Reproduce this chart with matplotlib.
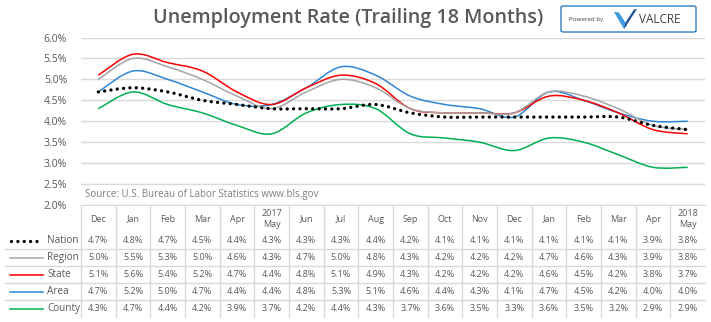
import numpy as np
import matplotlib.pyplot as plt
from matplotlib.path import Path
from matplotlib.patches import PathPatch, FancyBboxPatch, Polygon
from matplotlib.lines import Line2D
from matplotlib.transforms import blended_transform_factory

plt.rcParams['font.family'] = ['Open Sans', 'DejaVu Sans']

# monthly unemployment rates (%), Dec 2016 .. May 2018
months = ['Dec', 'Jan', 'Feb', 'Mar', 'Apr', '2017\nMay', 'Jun', 'Jul', 'Aug',
          'Sep', 'Oct', 'Nov', 'Dec', 'Jan', 'Feb', 'Mar', 'Apr', '2018\nMay']
nation = [4.7, 4.8, 4.7, 4.5, 4.4, 4.3, 4.3, 4.3, 4.4, 4.2, 4.1, 4.1, 4.1, 4.1, 4.1, 4.1, 3.9, 3.8]
region = [5.0, 5.5, 5.3, 5.0, 4.6, 4.3, 4.7, 5.0, 4.8, 4.3, 4.2, 4.2, 4.2, 4.7, 4.6, 4.3, 3.9, 3.8]
state = [5.1, 5.6, 5.4, 5.2, 4.7, 4.4, 4.8, 5.1, 4.9, 4.3, 4.2, 4.2, 4.2, 4.6, 4.5, 4.2, 3.8, 3.7]
area = [4.7, 5.2, 5.0, 4.7, 4.4, 4.4, 4.8, 5.3, 5.1, 4.6, 4.4, 4.3, 4.1, 4.7, 4.5, 4.2, 4.0, 4.0]
county = [4.3, 4.7, 4.4, 4.2, 3.9, 3.7, 4.2, 4.4, 4.3, 3.7, 3.6, 3.5, 3.3, 3.6, 3.5, 3.2, 2.9, 2.9]

series = [
    ('Nation', nation, 'black'),
    ('Region', region, '#A5A5A5'),
    ('State', state, '#FF0000'),
    ('Area', area, '#2E86D4'),
    ('County', county, '#00B050'),
]

W, H = 711, 322
GRID = '#D9D9D9'
TXT = '#595959'


def fx(px):
    return px / W


def fy(py):
    return 1 - py / H


def smooth_path(xs, ys):
    # cubic bezier through every point (Excel-style smoothed line)
    pts = np.column_stack([xs, ys]).astype(float)
    n = len(pts)
    verts = [pts[0]]
    codes = [Path.MOVETO]
    for i in range(n - 1):
        p0 = pts[max(i - 1, 0)]
        p1, p2 = pts[i], pts[i + 1]
        p3 = pts[min(i + 2, n - 1)]
        verts += [p1 + (p2 - p0) / 6, p2 - (p3 - p1) / 6, p2]
        codes += [Path.CURVE4] * 3
    return Path(verts, codes)


fig = plt.figure(figsize=(W / 100, H / 100), dpi=100)
ax = fig.add_axes([fx(81), fy(205), (705 - 81) / W, (205 - 37.5) / H])
ax.set_xlim(-0.5, len(months) - 0.5)
ax.set_ylim(2.0, 6.0)
ax.set_yticks(np.arange(2.0, 6.01, 0.5))
ax.set_yticklabels(['%.1f%%' % v for v in np.arange(2.0, 6.01, 0.5)], fontsize=7.5, color=TXT)
ax.set_xticks([])
ax.tick_params(axis='y', length=0, pad=10)
ax.yaxis.grid(True, color=GRID, lw=1)
ax.set_axisbelow(True)
for s in ['top', 'right', 'left']:
    ax.spines[s].set_visible(False)
ax.spines['bottom'].set_color(GRID)

x = np.arange(len(months))
for name, vals, col in series[::-1]:
    if name == 'Nation':
        p = PathPatch(smooth_path(x, vals), fill=False, edgecolor=col, lw=2.4,
                      linestyle=(0, (0.01, 1.9)), capstyle='round', zorder=5)
    else:
        p = PathPatch(smooth_path(x, vals), fill=False, edgecolor=col, lw=1.1, zorder=3)
    ax.add_patch(p)

ax.text(0.007, 0.06, 'Source: U.S. Bureau of Labor Statistics www.bls.gov',
        transform=ax.transAxes, fontsize=7, color='#7F7F7F', va='center')

# data table under the plot
trans = blended_transform_factory(ax.transData, fig.transFigure)
for i, m in enumerate(months):
    ax.text(i, fy(219), m, transform=trans, ha='center', va='center',
            fontsize=6.5, color=TXT, linespacing=1.2)
row_y = [240.7, 257.7, 274.7, 291.7, 308.7]
for (name, vals, col), ry in zip(series, row_y):
    for i, v in enumerate(vals):
        ax.text(i, fy(ry), '%.1f%%' % v, transform=trans, ha='center', va='center',
                fontsize=6.5, color=TXT)
    fig.text(fx(47), fy(ry), name, ha='left', va='center', fontsize=7.2, color=TXT)
    if name == 'Nation':
        fig.add_artist(Line2D([fx(10.5), fx(42)], [fy(ry), fy(ry)], color=col, lw=2.4,
                              linestyle=(0, (0.01, 1.9)), dash_capstyle='round'))
    else:
        fig.add_artist(Line2D([fx(10), fx(43)], [fy(ry), fy(ry)], color=col, lw=1.1))

for yl in [249, 266, 283, 299.5]:
    fig.add_artist(Line2D([fx(5), fx(705)], [fy(yl), fy(yl)], color=GRID, lw=1))
for b in np.arange(-0.5, len(months) - 0.5):
    fig.add_artist(Line2D([b, b], [fy(205), fy(317)], transform=trans, color=GRID, lw=1))

fig.text(fx(348), fy(18), 'Unemployment Rate (Trailing 18 Months)', ha='center', va='center',
         fontsize=14.2, fontweight='semibold', color=TXT)

# "Powered by VALCRE" badge
fig.add_artist(FancyBboxPatch((fx(561), fy(32)), fx(135), 26 / H,
                              boxstyle='round,pad=0,rounding_size=0.004',
                              transform=fig.transFigure, fc='white', ec='#2F7FC1', lw=1))
fig.text(fx(569), fy(19.5), 'Powered by', fontsize=4.5, color='#404040', va='center')
fig.add_artist(Polygon([(fx(614), fy(12)), (fx(619), fy(12.5)), (fx(627), fy(25)), (fx(624), fy(29))],
                       closed=True, transform=fig.transFigure, fc='#3C9BDC', ec='none'))
fig.add_artist(Polygon([(fx(624), fy(29)), (fx(637), fy(9)), (fx(634), fy(9.5)), (fx(625.5), fy(22.5))],
                       closed=True, transform=fig.transFigure, fc='#1F4E9A', ec='none'))
fig.text(fx(639), fy(19.5), 'VALCRE', fontsize=8.5, color='#404040', va='center')

fig.savefig('out.png', dpi=100)
